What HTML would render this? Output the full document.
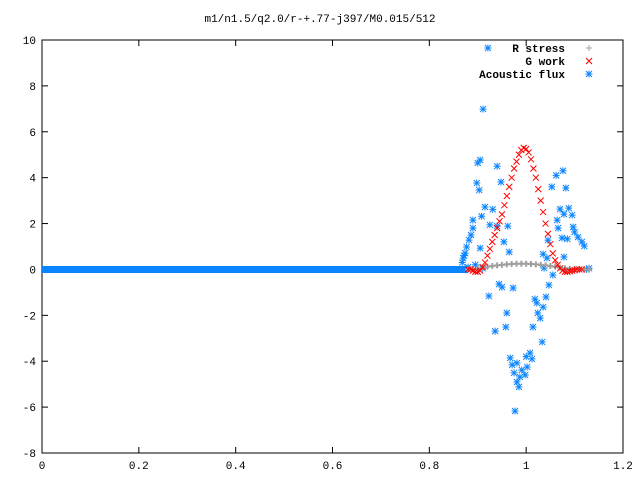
<!DOCTYPE html>
<html><head><meta charset="utf-8"><style>
html,body{margin:0;padding:0;background:#fff}
svg{display:block}
text{font-family:"Liberation Mono",monospace;font-size:11px;fill:#000}
</style></head><body>
<svg id="c" width="640" height="480"></svg>
<script>
const xTicks=[0,0.2,0.4,0.6,0.8,1,1.2];
const xTickLabels=["0","0.2","0.4","0.6","0.8","1","1.2"];
const yTicks=[-8,-6,-4,-2,0,2,4,6,8,10];
const yTickLabels=["-8","-6","-4","-2","0","2","4","6","8","10"];
const flatRange=[0,0.88];
const flatValue=0;
const fluxX=[0.921,0.911,0.905,0.90,0.94,0.898,0.903,0.948,1.062,1.076,1.053,1.082,0.915,0.931,0.908,0.89,0.89,0.886,0.882,0.877,0.874,0.87,0.925,0.94,0.962,0.954,0.965,0.905,1.07,1.088,1.078,1.095,1.064,1.066,1.097,1.10,1.107,1.115,1.12,1.074,1.085,1.045,1.035,1.043,1.078,1.037,1.125,1.055,1.047,0.944,0.95,0.973,0.923,1.018,1.041,1.022,1.035,0.96,1.024,1.029,0.958,0.936,1.014,1.033,1.008,1.0,0.967,1.012,0.971,0.981,1.002,0.991,0.975,0.998,0.987,0.981,0.985,0.977,0.872,0.868,0.88,0.895,0.91,1.13];
const fluxY=[9.65,6.99,4.77,4.64,4.5,3.77,3.46,3.81,4.1,4.3,3.6,3.55,2.72,2.62,2.32,2.15,1.8,1.5,1.28,0.98,0.71,0.5,1.94,1.89,1.89,1.2,0.76,0.93,2.63,2.67,2.41,2.37,2.15,1.8,1.85,1.63,1.41,1.2,1.02,1.37,1.33,1.28,0.67,0.5,0.54,0.06,0,-0.24,-0.68,-0.64,-0.77,-0.81,-1.16,-1.29,-1.2,-1.46,-1.64,-1.9,-1.9,-2.12,-2.51,-2.69,-2.51,-3.16,-3.64,-3.8,-3.86,-3.9,-4.16,-4.08,-4.25,-4.38,-4.51,-4.6,-4.69,-4.9,-5.12,-6.17,0.6,0.3,0.1,0.2,0.05,0.05];
const workX=[0.880,0.885,0.890,0.895,0.900,0.905,0.910,0.915,0.920,0.925,0.930,0.935,0.940,0.945,0.950,0.955,0.960,0.965,0.970,0.975,0.980,0.985,0.990,0.995,1.000,1.005,1.010,1.015,1.020,1.025,1.030,1.035,1.040,1.045,1.050,1.055,1.060,1.065,1.070,1.075,1.080,1.085,1.090,1.095,1.100,1.105,1.110,1.115];
const workY=[0,0,-0.05,-0.1,-0.1,-0.05,0.1,0.3,0.6,0.9,1.2,1.5,1.8,2.1,2.4,2.8,3.2,3.6,4.0,4.4,4.7,5.0,5.2,5.3,5.25,5.1,4.8,4.4,4.0,3.5,3.0,2.5,2.0,1.55,1.1,0.7,0.4,0.2,0.05,-0.05,-0.1,-0.1,-0.08,-0.05,-0.03,0,0,0];
const stressX=[0.88,0.89,0.90,0.91,0.92,0.93,0.94,0.95,0.96,0.97,0.98,0.99,1.00,1.01,1.02,1.03,1.04,1.05,1.06,1.07,1.08,1.09,1.10,1.11,1.12,1.13];
const stressY=[0,0.02,0.05,0.08,0.12,0.15,0.18,0.2,0.22,0.24,0.25,0.25,0.25,0.24,0.22,0.2,0.18,0.15,0.12,0.08,0.05,0.03,0.02,0.01,0,0];

const L=42,R=623,T=40,B=453,xMin=0,xMax=1.2,yMin=-8,yMax=10;
const sx=v=>L+(v-xMin)/(xMax-xMin)*(R-L);
const sy=v=>B-(v-yMin)/(yMax-yMin)*(B-T);
const svg=document.getElementById('c');
const NS='http://www.w3.org/2000/svg';
function mk(tag,attrs,parent){const e=document.createElementNS(NS,tag);for(const k in attrs)e.setAttribute(k,attrs[k]);(parent||svg).appendChild(e);return e;}

const title=mk('text',{x:320,y:22,'text-anchor':'middle'});
title.textContent='m1/n1.5/q2.0/r-+.77-j397/M0.015/512';



const frame=mk('rect',{x:L,y:T,width:R-L,height:B-T,fill:'none',stroke:'#000','stroke-width':1});



xTicks.forEach((v,i)=>{
  const x=sx(v);
  mk('line',{x1:x,y1:B,x2:x,y2:B-6,stroke:'#000'});
  mk('line',{x1:x,y1:T,x2:x,y2:T+6,stroke:'#000'});
  const t=mk('text',{x:x,y:B+16,'text-anchor':'middle'});
  t.textContent=xTickLabels[i];
  
  
});
yTicks.forEach((v,i)=>{
  const y=sy(v);
  mk('line',{x1:L,y1:y,x2:L+6,y2:y,stroke:'#000'});
  mk('line',{x1:R,y1:y,x2:R-6,y2:y,stroke:'#000'});
  const t=mk('text',{x:L-6,y:y+4,'text-anchor':'end'});
  t.textContent=yTickLabels[i];
  
  
});

function star(x,y,c,g){const p=mk('path',{d:`M${x-3.5} ${y}H${x+3.5}M${x} ${y-3.5}V${y+3.5}M${x-3} ${y-3}L${x+3} ${y+3}M${x-3} ${y+3}L${x+3} ${y-3}`,stroke:c,'stroke-width':1,fill:'none'},g);return p;}
function cross(x,y,c,g){return mk('path',{d:`M${x-3} ${y-3}L${x+3} ${y+3}M${x-3} ${y+3}L${x+3} ${y-3}`,stroke:c,'stroke-width':1,fill:'none'},g);}
function plus(x,y,c,g){return mk('path',{d:`M${x-3} ${y}H${x+3}M${x} ${y-3}V${y+3}`,stroke:c,'stroke-width':1,fill:'none'},g);}

const blue='#0a84ff',red='#ff0000',gray='#a0a0a0';

const gFlux=mk('g',{});


mk('line',{x1:sx(flatRange[0]),y1:sy(flatValue),x2:sx(flatRange[1]),y2:sy(flatValue),stroke:blue,'stroke-width':7},gFlux);

const gStress=mk('g',{});


stressX.forEach((v,i)=>{const p=plus(sx(v),sy(stressY[i]),gray,gStress);p.setAttribute('stroke-width',2);});

const gWork=mk('g',{});


workX.forEach((v,i)=>cross(sx(v),sy(workY[i]),red,gWork));

fluxX.forEach((v,i)=>star(sx(v),sy(fluxY[i]),blue,gFlux));

const legend=[["R stress",gray,plus],["G work",red,cross],["Acoustic flux",blue,star]];
legend.forEach((e,i)=>{
  const y=48+i*13;
  const t=mk('text',{x:565,y:y+4,'text-anchor':'end','font-weight':'bold'});
  t.textContent=e[0];
  
  
  e[2](589,y,e[1]);
});
</script>
</body></html>
